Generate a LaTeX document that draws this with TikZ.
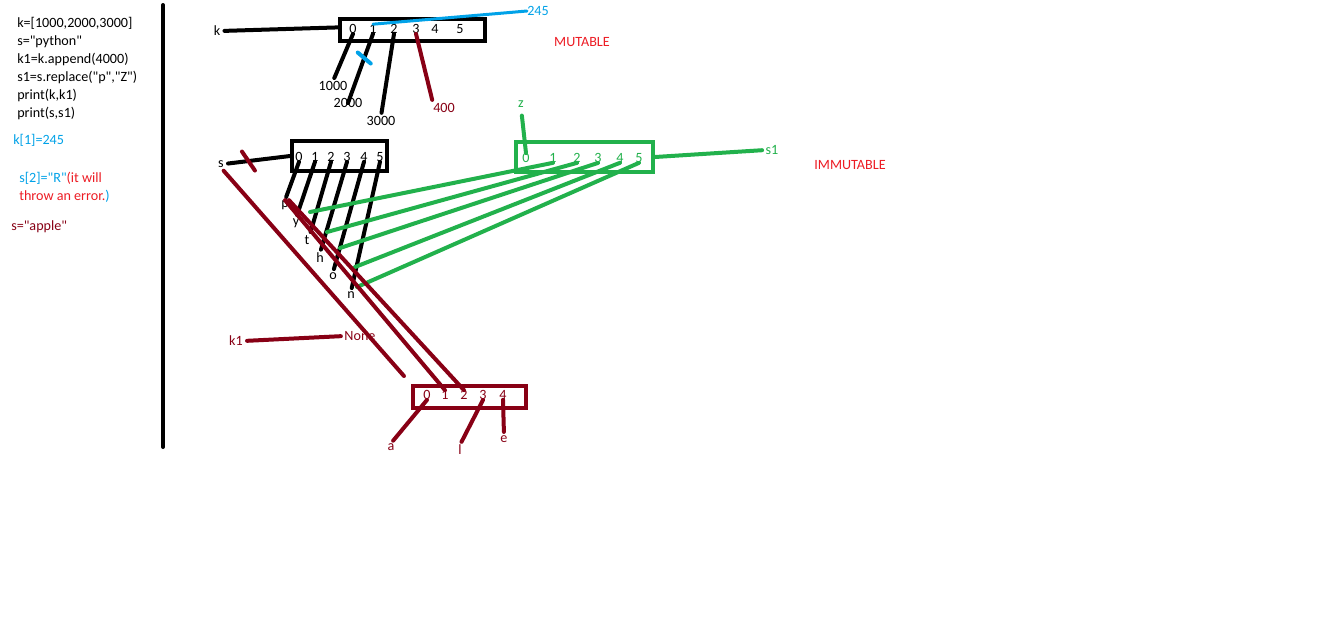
\documentclass[tikz,border=0pt]{standalone}
\usepackage{fontspec}
\setmainfont{Carlito}[Ligatures=TeXOff]
\definecolor{pblue}{HTML}{00A2E8}
\definecolor{pred}{HTML}{ED1C24}
\definecolor{pdark}{HTML}{880015}
\definecolor{pgreen}{HTML}{22B14C}

\begin{document}
\begin{tikzpicture}[x=0.75pt,y=-0.75pt,line cap=round,
    every node/.style={inner sep=0pt,font=\fontsize{10.6}{12.7}\selectfont},
    code/.style={anchor=base west},
    cell/.style={draw,line width=3pt,minimum height=16.5pt},
    wire/.style={line width=3pt},
    tolabel/.style={wire,shorten >=2.5pt}]
  \useasboundingbox[fill=white] (0,0) rectangle (1344,619);

  % the program
  \node[code] (c1) at (17,27) {k=[1000,2000,3000]};
  \node[code] (c2) at (17,45) {s="python"};
  \node[code] (c3) at (17,63) {k1=k.append(4000)};
  \node[code] (c4) at (17,81) {s1=s.replace("p","Z")};
  \node[code] (c5) at (17,99) {print(k,k1)};
  \node[code] (c6) at (17,117) {print(s,s1)};
  \node[code,pblue] (c7) at (13,144) {k[1]=245};
  \node[code,pblue] (c8) at (19,182) {s[2]="R"\textcolor{pred}{(it will}};
  \node[code,pred] (c9) at (19,200) {throw an error.\textcolor{pblue}{)}};
  \node[code,pdark] (c10) at (11,230) {s="apple"};
  \draw[wire] (163,5) -- (163,447);

  % list k
  \node[cell,minimum width=108.75pt] (kbox) at (412.5,30) {};
  \node (k0) at (353,29) {0}; \node (k1) at (373,29) {1};
  \node (k2) at (394,29) {2}; \node (k3) at (416,29) {3};
  \node (k4) at (435,29) {4}; \node (k5) at (460,29) {5};
  \node (k) at (217,31) {k};
  \node (v1000) at (333,86) {1000};
  \node (v2000) at (348,103) {2000};
  \node (v3000) at (381,121) {3000};
  \node[pdark] (v400) at (444,108) {400};
  \node[pblue] (v245) at (538,11) {245};
  \node[pred] (mut) at (582,42) {MUTABLE};
  \draw[wire,shorten <=3pt] (k.east) -- (kbox.178);
  \draw[tolabel] (k0.south) -- (v1000.north);
  \draw[wire] (k1.south) -- coordinate[pos=.35] (cutk) (v2000.center);
  \draw[tolabel] (k2.south) -- (v3000.north);
  \draw[tolabel,pdark] (k3.south) -- (v400.north west);
  \draw[pblue,line width=2.25pt] (k1.north) -- (v245.west);
  \draw[wire,pblue] ([shift={(-6.5,-5.5)}]cutk) -- ([shift={(6.5,5.5)}]cutk);

  % string s
  \node[cell,minimum width=71.25pt,minimum height=22.5pt] (sbox) at (339.5,156) {};
  \node (s0) at (299,157) {0}; \node (s1) at (315,157) {1};
  \node (s2) at (331,157) {2}; \node (s3) at (347,157) {3};
  \node (s4) at (364,157) {4}; \node (s5) at (380,157) {5};
  \node (s) at (221,164) {s};
  \node (p) at (285,205) {p}; \node (y) at (296,223) {y};
  \node (t) at (307,240) {t}; \node (h) at (320,258) {h};
  \node (o) at (333,276) {o}; \node (n) at (351,295) {n};
  \draw[wire,shorten <=3pt] (s.east) -- coordinate[pos=.37] (cuts) (sbox.west);
  \draw[tolabel] (s0.south) -- (p.north);
  \draw[tolabel] (s1.south) -- (y.north);
  \draw[tolabel] (s2.south) -- (t.north east);
  \draw[tolabel] (s3.south) -- (h.north);
  \draw[tolabel] (s4.south) -- (o.north);
  \draw[tolabel] (s5.south) -- (n.north);

  % string s1
  \node[cell,pgreen,minimum width=102.75pt,minimum height=22.5pt] (gbox) at (584.5,157) {};
  \node[pgreen] (g0) at (526,158) {0}; \node[pgreen] (g1) at (553,158) {1};
  \node[pgreen] (g2) at (577,158) {2}; \node[pgreen] (g3) at (598,158) {3};
  \node[pgreen] (g4) at (620,158) {4}; \node[pgreen] (g5) at (639,158) {5};
  \node[pgreen] (z) at (521,104) {z};
  \node[pgreen] (sone) at (772,150) {s1};
  \node[pred] (immut) at (850,165) {IMMUTABLE};
  \coordinate (dy) at (310,212);
  \coordinate (dt) at (327,232);
  \coordinate (dh) at (340,248);
  \coordinate (do) at (355,267);
  \coordinate (dn) at (357,287);
  \draw[wire,pgreen,shorten <=6pt] (z.south) -- (g0.north);
  \draw[tolabel,pgreen] (gbox.east) -- (sone.west);
  \draw[wire,pgreen] (g1.south) -- (dy);
  \draw[wire,pgreen] (g2.south) -- (dt);
  \draw[wire,pgreen] (g3.south) -- (dh);
  \draw[wire,pgreen] (g4.south) -- (do);
  \draw[wire,pgreen] (g5.south) -- (dn);

  % string "apple"
  \node[cell,pdark,minimum width=84.75pt] (abox) at (469.5,397) {};
  \node[pdark] (a0) at (427,395) {0}; \node[pdark] (a1) at (445,395) {1};
  \node[pdark] (a2) at (464,395) {2}; \node[pdark] (a3) at (483,395) {3};
  \node[pdark] (a4) at (503,395) {4};
  \node[pdark] (a) at (391,447) {a};
  \node[pdark] (l) at (460,450) {l};
  \node[pdark] (e) at (504,439) {e};
  \node[pdark] (kone) at (236,341) {k1};
  \node[pdark] (none) at (360,336) {None};
  \draw[wire,pdark] ([shift={(-6.5,-9.5)}]cuts) -- ([shift={(6.5,9.5)}]cuts);
  \draw[wire,pdark,shorten <=3pt,shorten >=8pt] (s.south) -- (abox.north west);
  \draw[wire,pdark] (p.north) -- (a1.north);
  \draw[wire,pdark] (p.north east) -- (a2.north);
  \draw[tolabel,pdark] (a0.south) -- (a.north);
  \draw[tolabel,pdark] (a3.south) -- (l.north);
  \draw[tolabel,pdark] (a4.south) -- (e.north);
  \draw[tolabel,pdark,shorten <=3pt] (kone.east) -- (none.west);
\end{tikzpicture}
\end{document}
